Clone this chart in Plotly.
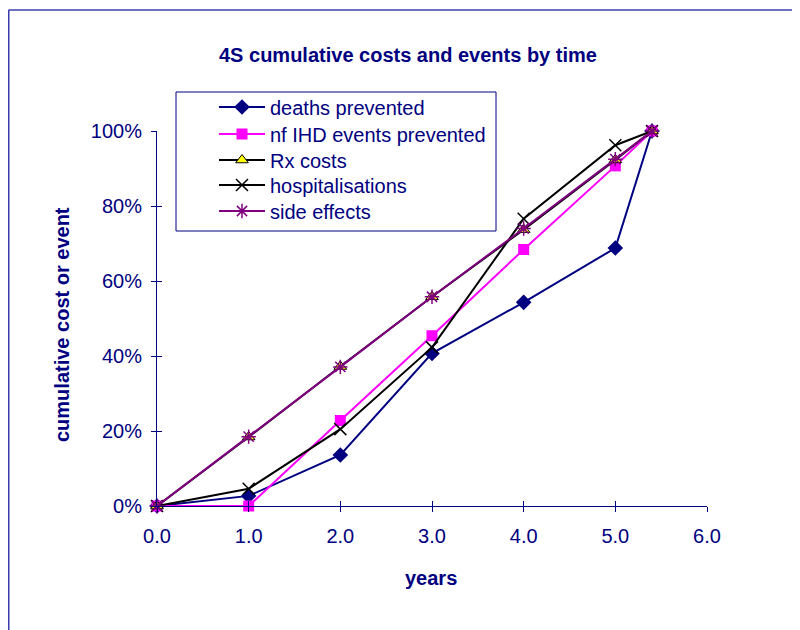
import plotly.graph_objects as go

years = [0.0, 1.0, 2.0, 3.0, 4.0, 5.0, 5.4]
deaths_prevented = [0.0, 0.027, 0.136, 0.407, 0.543, 0.688, 1.0]
nf_ihd_prevented = [0.0, 0.0, 0.228, 0.454, 0.684, 0.907, 1.0]
rx_costs = [0.0, 0.184, 0.372, 0.558, 0.737, 0.923, 1.0]
hospitalisations = [0.0, 0.046, 0.205, 0.423, 0.766, 0.962, 1.0]
side_effects = [0.0, 0.185, 0.371, 0.558, 0.740, 0.925, 1.0]

x_ticks = [0, 1, 2, 3, 4, 5, 6]
x_tick_text = ["0.0", "1.0", "2.0", "3.0", "4.0", "5.0", "6.0"]
y_ticks = [0, 0.2, 0.4, 0.6, 0.8, 1.0]
y_tick_text = ["0%", "20%", "40%", "60%", "80%", "100%"]

NAVY = "#000080"
FONT = "Liberation Sans, Arial, sans-serif"

# page body has an 8px margin: work in reference pixels, shift by OFF
OFF = 8
W, H = 800 - OFF, 630 - OFF
X0_REF, X6_REF, Y0_REF, Y100_REF = 157, 707, 506, 131
ml = X0_REF - OFF
mr = W - (X6_REF - OFF)
mt = Y100_REF - OFF
mb = H - (Y0_REF - OFF)
pw, ph = W - ml - mr, H - mt - mb


def px(xr):
    return (xr - OFF - ml) / pw


def py(yr):
    return (H - mb - (yr - OFF)) / ph


fig = go.Figure()
fig.add_trace(go.Scatter(x=years, y=deaths_prevented, name="deaths prevented", mode="lines+markers",
                         line=dict(color=NAVY, width=2), legend="legend",
                         marker=dict(symbol="diamond", size=12, color=NAVY), cliponaxis=False))
fig.add_trace(go.Scatter(x=years, y=nf_ihd_prevented, name="nf IHD events prevented", mode="lines+markers",
                         line=dict(color="#ff00ff", width=2), legend="legend2",
                         marker=dict(symbol="square", size=11, color="#ff00ff"), cliponaxis=False))
fig.add_trace(go.Scatter(x=years, y=rx_costs, name="Rx costs", mode="lines+markers",
                         line=dict(color="#000000", width=2), legend="legend3",
                         marker=dict(symbol="triangle-up", size=11, color="#ffff00",
                                     line=dict(color="#000000", width=1)), cliponaxis=False))
fig.add_trace(go.Scatter(x=years, y=hospitalisations, name="hospitalisations", mode="lines+markers",
                         line=dict(color="#000000", width=2), legend="legend4",
                         marker=dict(symbol="x-thin-open", size=12, color="#000000",
                                     line=dict(color="#000000", width=1.5)), cliponaxis=False))
fig.add_trace(go.Scatter(x=years, y=side_effects, name="side effects", mode="lines+markers",
                         line=dict(color="#800080", width=2), legend="legend5",
                         marker=dict(symbol="asterisk-open", size=12, color="#800080",
                                     line=dict(color="#800080", width=1.5)), cliponaxis=False))
# helper trace so the overlay axes (inner half of the crossing tick marks) render
fig.add_trace(go.Scatter(x=[None], y=[None], xaxis="x2", yaxis="y2", showlegend=False, hoverinfo="skip"))

entry_y = [107, 134, 160, 185, 211]
legend_x = 214


def leg(yc):
    return dict(x=px(legend_x), y=py(yc), xanchor="left", yanchor="middle",
                bgcolor="rgba(0,0,0,0)", borderwidth=0, itemwidth=46,
                font=dict(family=FONT, size=20, color=NAVY))


fig.update_layout(
    width=W, height=H,
    margin=dict(l=ml, r=mr, t=mt, b=mb, pad=0),
    paper_bgcolor="white", plot_bgcolor="rgba(0,0,0,0)",
    font=dict(family=FONT, color=NAVY, size=20),
    showlegend=True,
    legend=leg(entry_y[0]), legend2=leg(entry_y[1]), legend3=leg(entry_y[2]),
    legend4=leg(entry_y[3]), legend5=leg(entry_y[4]),
    xaxis=dict(range=[0, 6], tickvals=x_ticks, ticktext=x_tick_text, ticks="outside", ticklen=5,
               tickcolor=NAVY, tickwidth=1, showline=True, linecolor=NAVY, linewidth=1,
               showgrid=False, zeroline=False, tickfont=dict(size=20, color=NAVY),
               ticklabelstandoff=7, fixedrange=True),
    yaxis=dict(range=[0, 1], tickvals=y_ticks, ticktext=y_tick_text, ticks="outside", ticklen=5,
               tickcolor=NAVY, tickwidth=1, showline=True, linecolor=NAVY, linewidth=1,
               showgrid=False, zeroline=False, tickfont=dict(size=20, color=NAVY),
               ticklabelstandoff=5, fixedrange=True),
    xaxis2=dict(range=[0, 6], tickvals=x_ticks, ticks="inside", ticklen=5, tickcolor=NAVY,
                showticklabels=False, showline=False, showgrid=False, zeroline=False,
                overlaying="x", anchor="y", side="bottom"),
    yaxis2=dict(range=[0, 1], tickvals=y_ticks, ticks="inside", ticklen=5, tickcolor=NAVY,
                showticklabels=False, showline=False, showgrid=False, zeroline=False,
                overlaying="y", anchor="x", side="left"),
    shapes=[
        dict(type="rect", xref="paper", yref="paper", x0=px(176), x1=px(496), y0=py(231), y1=py(92),
             line=dict(color=NAVY, width=1), fillcolor="white", layer="below"),
        dict(type="line", xref="paper", yref="paper", x0=px(8.5), x1=px(800), y0=py(10), y1=py(10),
             line=dict(color="#6f6fbf", width=2)),
        dict(type="line", xref="paper", yref="paper", x0=px(8.5), x1=px(8.5), y0=py(10), y1=py(630),
             line=dict(color="#3a3aaa", width=2)),
    ],
    annotations=[
        dict(text="<b>4S cumulative costs and events by time</b>", xref="paper", yref="paper",
             x=px(408), y=py(55), xanchor="center", yanchor="middle", showarrow=False,
             font=dict(family=FONT, size=20, color=NAVY)),
        dict(text="<b>cumulative cost or event</b>", xref="paper", yref="paper",
             x=px(62), y=py(325), xanchor="center", yanchor="middle", showarrow=False, textangle=-90,
             font=dict(family=FONT, size=20, color=NAVY)),
        dict(text="<b>years</b>", xref="paper", yref="paper",
             x=px(431), y=py(578), xanchor="center", yanchor="middle", showarrow=False,
             font=dict(family=FONT, size=20, color=NAVY)),
    ],
)

fig.write_html("out.html")
